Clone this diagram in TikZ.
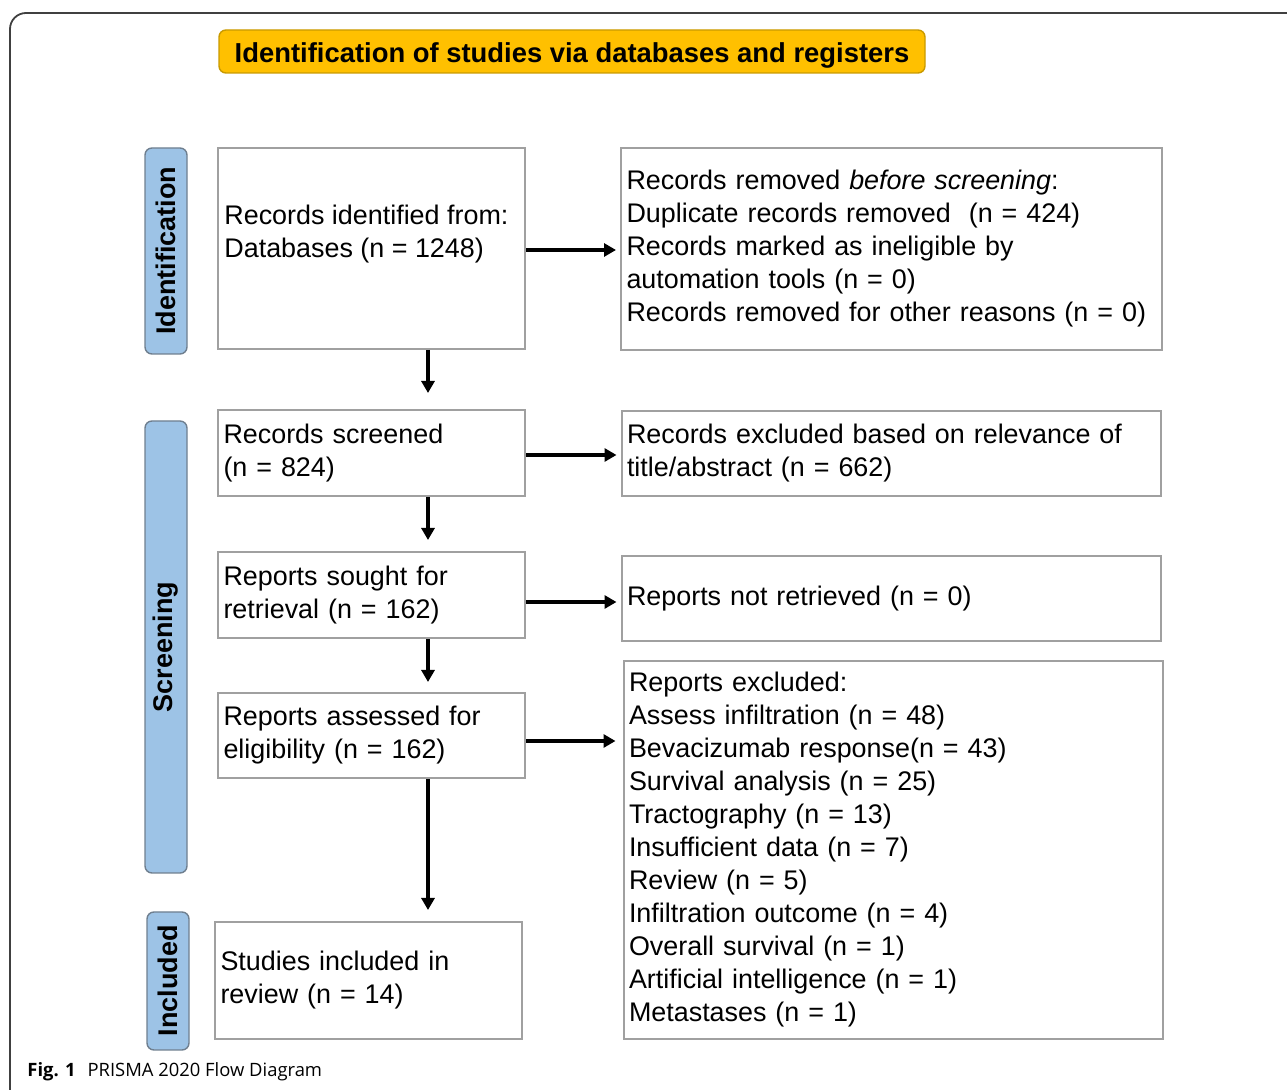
\documentclass[tikz,border=0pt]{standalone}
\usepackage{fontspec}
\setmainfont{Liberation Sans}
\newfontfamily\capfont{Open Sans}
\usetikzlibrary{arrows.meta}
\definecolor{titlefill}{HTML}{FFC000}
\definecolor{titledraw}{HTML}{C99A00}
\definecolor{sidefill}{HTML}{9DC3E6}
\definecolor{sidedraw}{HTML}{6F7F8F}
\definecolor{boxgray}{HTML}{A0A0A0}
\definecolor{framecol}{HTML}{404040}
\begin{document}
\begin{tikzpicture}[x=0.5pt,y=-0.5pt,
  every node/.style={font=\fontsize{13.45}{16.5}\selectfont},
  box/.style={draw=boxgray, line width=1pt, fill=white, inner xsep=2.75pt, inner ysep=0pt, align=left, anchor=center},
  narrowbox/.style={box, text width=148pt, minimum width=153.5pt},
  widebox/.style={box, text width=264pt, minimum width=269.5pt},
  sidelabel/.style={draw=sidedraw, line width=0.7pt, fill=sidefill, rounded corners=3.5pt, rotate=90, inner sep=0pt, font=\fontsize{13.5}{16}\selectfont\bfseries, minimum height=21pt},
  titlebox/.style={draw=titledraw, line width=0.7pt, fill=titlefill, rounded corners=3.5pt, inner sep=0pt, font=\fontsize{13.7}{16.5}\selectfont\bfseries},
  arr/.style={line width=1.6pt, -{Triangle[length=6pt,width=6.5pt]}}
]
\useasboundingbox (0,0) rectangle (1287,1090);
\begin{scope}
  \clip (0,0) rectangle (1287,1090);
  \draw[framecol, line width=0.9pt, rounded corners=8pt] (10,13) rectangle (1320,1120);
\end{scope}

% title
\node[titlebox, minimum width=353pt, minimum height=21.5pt, text depth=0.2pt] (title) at (572,51.5) {\raisebox{-1.2pt}{Identification of studies via databases and registers}};

% side labels
\node[sidelabel, minimum width=103pt] (sid) at (166,251) {Identification};
\node[sidelabel, minimum width=226pt] (ssc) at (166,647) {Screening};
\node[sidelabel, minimum width=69pt] (sin) at (168,981) {Included};

% left column
\node[narrowbox, minimum height=100.5pt] (A) at (371.5,248.5) {};
\node[anchor=west, align=left, inner sep=0pt] (Atext) at (224,234) {Records identified from:\\Databases (n = 1248)};
\node[narrowbox, minimum height=43pt] (C) at (371.5,453) {Records screened\\(n = 824)};
\node[narrowbox, minimum height=43pt] (E) at (371.5,595) {Reports sought for\\retrieval (n = 162)};
\node[narrowbox, minimum height=42.5pt] (G) at (371.5,735.5) {Reports assessed for\\eligibility (n = 162)};
\node[narrowbox, minimum height=58.5pt] (I) at (368.5,980.5) {Studies included in\\review (n = 14)};

% right column
\node[box, text width=265pt, minimum width=270.5pt, minimum height=101pt] (B) at (891.5,249) {Records removed \textit{before screening}:\\Duplicate records removed\ \ (n = 424)\\Records marked as ineligible by\\automation tools (n = 0)\\Records removed for other reasons (n = 0)};
\node[widebox, minimum height=42.5pt] (D) at (891,453.5) {Records excluded based on relevance of\\title/abstract (n = 662)};
\node[widebox, minimum height=42.5pt] (F) at (891,598.5) {Reports not retrieved (n = 0)};
\node[widebox, minimum height=189pt] (H) at (893,850) {Reports excluded:\\Assess infiltration (n = 48)\\Bevacizumab response(n = 43)\\Survival analysis (n = 25)\\Tractography (n = 13)\\Insufficient data (n = 7)\\Review (n = 5)\\Infiltration outcome (n = 4)\\Overall survival (n = 1)\\Artificial intelligence (n = 1)\\Metastases (n = 1)};

% arrows
\draw[arr, shorten >=2pt] (A.east |- 0,250) -- (B.west |- 0,250);
\draw[arr, shorten >=2pt] (C.east |- 0,455) -- (D.west |- 0,455);
\draw[arr, shorten >=2pt] (E.east |- 0,602) -- (F.west |- 0,602);
\draw[arr, shorten >=3.5pt] (G.east |- 0,741) -- (H.west |- 0,741);
\draw[arr, shorten >=8pt] (A.south -| 428,0) -- (C.north -| 428,0);
\draw[arr, shorten >=5.5pt] (C.south -| 428,0) -- (E.north -| 428,0);
\draw[arr, shorten >=5pt] (E.south -| 428,0) -- (G.north -| 428,0);
\draw[arr, shorten >=5.5pt] (G.south -| 428,0) -- (I.north -| 428,0);

% caption
\node[anchor=west, inner sep=0pt, font=\capfont\fontsize{9.2}{11}\selectfont] (cap) at (27,1072) {\textbf{Fig. 1}\hspace{6pt}PRISMA 2020 Flow Diagram};
\end{tikzpicture}
\end{document}
